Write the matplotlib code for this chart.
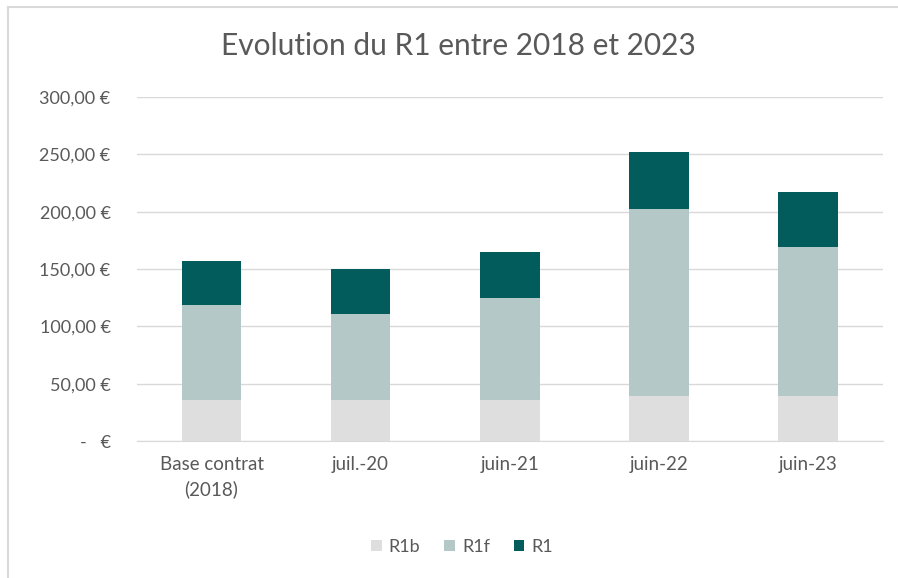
import matplotlib.pyplot as plt
import numpy as np
from matplotlib.lines import Line2D

categories = ['Base contrat\n(2018)', 'juil.-20', 'juin-21', 'juin-22', 'juin-23']
r1b = [35.4, 35.4, 35.4, 39.5, 39.5]
r1f = [82.8, 75.5, 89.2, 162.9, 129.8]
r1 = [39.2, 39.5, 40.0, 49.6, 47.9]
series_names = ['R1b', 'R1f', 'R1']
colors = ['#DEDEDE', '#B5C8C8', '#025C5C']
text_col = '#595959'

plt.rcParams['font.family'] = ['Lato', 'DejaVu Sans']

fig = plt.figure(figsize=(8.98, 5.78), dpi=100)
ax = fig.add_axes([137 / 898, 1 - 441 / 578, (882.5 - 137) / 898, 344 / 578])

x = np.arange(len(categories))
bottom = np.zeros(len(categories))
for vals, name, c in zip([r1b, r1f, r1], series_names, colors):
    ax.bar(x, vals, width=0.4, bottom=bottom, color=c, label=name, zorder=3)
    bottom += np.array(vals)

ax.set_xlim(-0.5, len(categories) - 0.5)
ax.set_ylim(0, 300)
yt = np.arange(0, 301, 50)
ax.set_yticks(yt)
ax.set_yticklabels(['-   €' if v == 0 else f'{v:.2f}'.replace('.', ',') + ' €' for v in yt])
ax.set_xticks(x)
ax.set_xticklabels(categories, linespacing=1.45)
ax.grid(axis='y', color='#D9D9D9', linewidth=1, zorder=0)
ax.tick_params(axis='y', length=0, pad=19, labelsize=13, labelcolor=text_col)
ax.tick_params(axis='x', length=0, pad=11, labelsize=13.5, labelcolor=text_col)
for s in ['top', 'right', 'left']:
    ax.spines[s].set_visible(False)
ax.spines['bottom'].set_color('#D9D9D9')

fig.text(0.51, 1 - 46 / 578, 'Evolution du R1 entre 2018 et 2023', ha='center', va='center',
         fontsize=21.5, color=text_col)

handles, labels = ax.get_legend_handles_labels()
fig.legend(handles, labels, loc='center', bbox_to_anchor=(462 / 898, 1 - 547 / 578), ncol=3,
           frameon=False, fontsize=13, labelcolor=text_col, handlelength=0.6, handleheight=0.6,
           handletextpad=0.4, columnspacing=1.3)

# chart border (top and left visible)
fig.add_artist(Line2D([7.5 / 898, 1], [1 - 6.5 / 578] * 2, color='#D9D9D9', lw=1.5))
fig.add_artist(Line2D([7.5 / 898] * 2, [0, 1 - 6.5 / 578], color='#D9D9D9', lw=1.5))

fig.savefig('out.png', dpi=100, facecolor='white')
